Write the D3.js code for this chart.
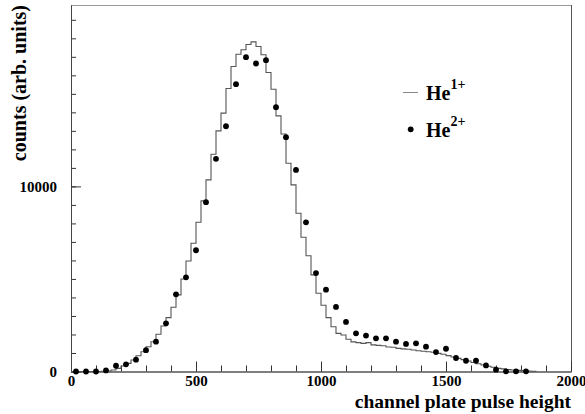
<!DOCTYPE html>
<html>
<head>
<meta charset="utf-8">
<script src="https://cdn.jsdelivr.net/npm/d3@7/dist/d3.min.js"></script>
<style>
  body { margin: 0; background: #fff; }
  svg { display: block; }
  text { font-family: "Liberation Serif", "Times New Roman", serif; font-weight: bold; fill: #000; }
</style>
</head>
<body>
<svg id="chart" width="585" height="414"></svg>
<script>
// He1+ pulse-height histogram: lower bin edges (channels) and counts per 20-channel bin
const he1BinEdges = [
  0, 20, 40, 60, 80, 100, 120, 140, 160, 180,
  200, 220, 240, 260, 280, 300, 320, 340, 360, 380,
  400, 420, 440, 460, 480, 500, 520, 540, 560, 580,
  600, 620, 640, 660, 680, 700, 720, 740, 760, 780,
  800, 820, 840, 860, 880, 900, 920, 940, 960, 980,
  1000, 1020, 1040, 1060, 1080, 1100, 1120, 1140, 1160, 1180,
  1200, 1220, 1240, 1260, 1280, 1300, 1320, 1340, 1360, 1380,
  1400, 1420, 1440, 1460, 1480, 1500, 1520, 1540, 1560, 1580,
  1600, 1620, 1640, 1660, 1680, 1700, 1720, 1740, 1760, 1780,
  1800, 1820, 1840
];
const he1BinWidth = 20;
const he1Counts = [
  0, 0, 0, 0, 0, 0, 10, 30, 80, 170,
  300, 440, 620, 850, 1070, 1340, 1610, 2010, 2460, 2910,
  3470, 4140, 5000, 5970, 6930, 8060, 9220, 10350, 11740, 13000,
  13960, 15290, 16480, 17140, 17380, 17670, 17810, 17560, 17110, 16150,
  15250, 13810, 12830, 11250, 10080, 8550, 7250, 6250, 5220, 4230,
  3580, 2910, 2420, 2060, 1970, 1740, 1600, 1560, 1520, 1560,
  1440, 1410, 1390, 1320, 1310, 1250, 1220, 1200, 1160, 1120,
  1090, 1070, 1040, 980, 930, 860, 780, 710, 640, 570,
  490, 420, 350, 280, 230, 170, 140, 100, 80, 60,
  50, 30, 10
];

// He2+ measurement: bin-centre channels and counts
const he2Channels = [
  20, 60, 100, 140, 180, 220, 260, 300, 340, 380,
  420, 460, 500, 540, 580, 620, 660, 700, 740, 780,
  820, 860, 900, 940, 980, 1020, 1060, 1100, 1140, 1180,
  1220, 1260, 1300, 1340, 1380, 1420, 1460, 1500, 1540, 1580,
  1620, 1660, 1700, 1740, 1780, 1820
];
const he2Counts = [
  0, 0, 0, 60, 310, 390, 640, 1150, 1610, 2600,
  4170, 5090, 6550, 9150, 11490, 13250, 15520, 16980, 16640, 16820,
  14280, 12660, 10890, 8060, 5320, 4420, 3490, 2680, 2060, 1940,
  1790, 1790, 1610, 1490, 1520, 1340, 1050, 1230, 730, 580,
  580, 330, 100, 10, 10, 10
];

// Axis ticks and labels
const xMajorTicks = [0, 500, 1000, 1500, 2000];
const yMajorTicks = [0, 10000];
const legendLabels = [
  { base: "He", sup: "1+" },
  { base: "He", sup: "2+" }
];
const xTitle = "channel plate pulse height";
const yTitle = "counts (arb. units)";

const svg = d3.select("#chart");
const plot = { left: 71, right: 571, top: 5, bottom: 371.5 };

const x = d3.scaleLinear().domain([0, 2000]).range([plot.left, plot.right]);
const y = d3.scaleLinear().domain([0, 19800]).range([plot.bottom, plot.top]);

// frame: top and right borders
svg.append("line")
  .attr("x1", plot.left).attr("x2", plot.right)
  .attr("y1", plot.top + 0.5).attr("y2", plot.top + 0.5)
  .attr("stroke", "#9a9a9a").attr("stroke-width", 1);
svg.append("line")
  .attr("x1", plot.right + 0.5).attr("x2", plot.right + 0.5)
  .attr("y1", plot.top).attr("y2", plot.bottom)
  .attr("stroke", "#555").attr("stroke-width", 1);

// x axis: minor ticks every 100, major every 500, all pointing inward
const xMinor = d3.axisBottom(x).tickValues(d3.range(0, 2001, 100))
  .tickSizeInner(-6).tickSizeOuter(0).tickFormat("");
const xMajor = d3.axisBottom(x).tickValues(xMajorTicks)
  .tickSizeInner(-10).tickSizeOuter(0).tickPadding(5).tickFormat(d3.format("d"));

const gxMinor = svg.append("g").attr("transform", `translate(0,${plot.bottom})`).call(xMinor);
const gxMajor = svg.append("g").attr("transform", `translate(0,${plot.bottom})`).call(xMajor);
[gxMinor, gxMajor].forEach(g => {
  g.select(".domain").attr("stroke", "#555");
  g.selectAll(".tick line").attr("stroke", "#333");
});
gxMajor.selectAll(".tick text")
  .attr("y", 14.5).attr("dy", 0)
  .style("font-size", "15px").style("font-family", "'Liberation Serif', serif").style("font-weight", "bold");

// y axis: minor ticks every 1000, major at 0 and 10000
const yMinor = d3.axisLeft(y).tickValues(d3.range(0, 19001, 1000))
  .tickSizeInner(-5).tickSizeOuter(0).tickFormat("");
const yMajor = d3.axisLeft(y).tickValues(yMajorTicks)
  .tickSizeInner(-10).tickSizeOuter(0).tickPadding(14).tickFormat(d3.format("d"));

const gyMinor = svg.append("g").attr("transform", `translate(${plot.left},0)`).call(yMinor);
const gyMajor = svg.append("g").attr("transform", `translate(${plot.left},0)`).call(yMajor);
[gyMinor, gyMajor].forEach(g => {
  g.select(".domain").attr("stroke", "#444");
  g.selectAll(".tick line").attr("stroke", "#333");
});
gyMajor.selectAll(".tick text")
  .attr("x", -14)
  .style("font-size", "15px").style("font-family", "'Liberation Serif', serif").style("font-weight", "bold");

// He1+ histogram as a step outline
const stepPoints = he1BinEdges.map((e, i) => [e, he1Counts[i]]);
const lastEdge = he1BinEdges[he1BinEdges.length - 1] + he1BinWidth;
stepPoints.push([lastEdge, 0]);
const stepLine = d3.line()
  .x(d => x(d[0]))
  .y(d => y(d[1]))
  .curve(d3.curveStepAfter);
svg.append("path")
  .datum(stepPoints)
  .attr("d", stepLine)
  .attr("fill", "none")
  .attr("stroke", "#555")
  .attr("stroke-width", 1.1);

// He2+ points
svg.append("g").selectAll("circle")
  .data(he2Channels.map((c, i) => [c, he2Counts[i]]))
  .join("circle")
  .attr("cx", d => x(d[0]))
  .attr("cy", d => y(d[1]))
  .attr("r", 2.9)
  .attr("fill", "#000");

// legend
const legend = svg.append("g");
legend.append("line")
  .attr("x1", 403).attr("x2", 418).attr("y1", 92.5).attr("y2", 92.5)
  .attr("stroke", "#888").attr("stroke-width", 1);
legend.append("circle").attr("cx", 410.7).attr("cy", 129.3).attr("r", 2.9).attr("fill", "#000");

const legendBaselines = [99.5, 136.5];
legendLabels.forEach((lab, i) => {
  const t = legend.append("text")
    .attr("x", 426).attr("y", legendBaselines[i])
    .style("font-size", "20px");
  t.append("tspan").text(lab.base);
  t.append("tspan").attr("dy", -10.5).style("font-size", "14px").text(lab.sup);
});

// axis titles
svg.append("text")
  .attr("x", 571).attr("y", 408)
  .attr("text-anchor", "end")
  .style("font-size", "19.5px")
  .text(xTitle);
svg.append("text")
  .attr("transform", "translate(26,5) rotate(-90)")
  .attr("text-anchor", "end")
  .style("font-size", "20px")
  .text(yTitle);
</script>
</body>
</html>
